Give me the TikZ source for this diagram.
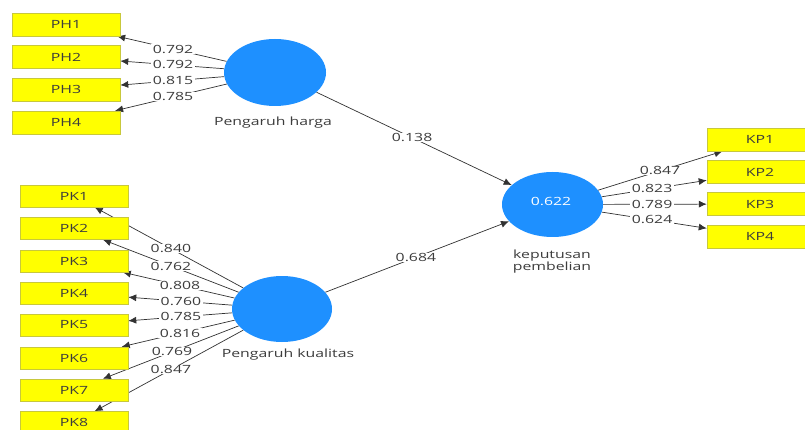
\documentclass[tikz,border=0pt]{standalone}
\usepackage{fontspec}
\setmainfont{Open Sans}[FakeStretch=1.4]
\usetikzlibrary{shapes.geometric,arrows.meta,calc}
\pgfdeclarelayer{bg}
\pgfsetlayers{bg,main}
\definecolor{lvblue}{RGB}{30,144,255}
\definecolor{indyellow}{RGB}{255,255,0}
\definecolor{indborder}{RGB}{200,200,60}
\definecolor{txtgray}{RGB}{60,60,60}
\definecolor{linegray}{RGB}{50,50,50}
\tikzset{
  ind/.style={rectangle, fill=indyellow, draw=indborder, line width=0.5pt, minimum width=108pt, minimum height=23pt, inner sep=0pt, text=txtgray, font=\fontsize{11.3}{13}\selectfont},
  lv/.style={ellipse, fill=lvblue, inner sep=0pt, text=white, font=\fontsize{11.3}{13}\selectfont},
  lvname/.style={text=txtgray, font=\fontsize{11.3}{13}\selectfont, align=center, inner sep=0pt},
  lbl/.style={fill=white, inner xsep=2pt, inner ysep=0.4pt, text=txtgray, font=\fontsize{11.3}{12}\selectfont},
  edge/.style={draw=linegray, line width=0.7pt, -{Latex[length=8pt,width=7pt]}}
}
\begin{document}
\begin{tikzpicture}[x=1pt,y=-1pt]
\useasboundingbox (0,0) rectangle (805,430);
\clip (0,0) rectangle (805,430);
% indicators
\node[ind] (PH1) at (66,24.5) {PH1};
\node[ind] (PH2) at (66,57) {PH2};
\node[ind] (PH3) at (66,89.5) {PH3};
\node[ind] (PH4) at (66,122.5) {PH4};
\node[ind, minimum height=22pt] (PK1) at (74,196) {PK1};
\node[ind, minimum height=22pt] (PK2) at (74,228.5) {PK2};
\node[ind, minimum height=22pt] (PK3) at (74,261) {PK3};
\node[ind, minimum height=22pt] (PK4) at (74,293) {PK4};
\node[ind, minimum height=22pt] (PK5) at (74,325) {PK5};
\node[ind, minimum height=22pt] (PK6) at (74,358) {PK6};
\node[ind, minimum height=22pt] (PK7) at (74,390) {PK7};
\node[ind, minimum height=22pt] (PK8) at (74,422.5) {PK8};
\node[ind, minimum width=106pt] (KP1) at (760,139.5) {KP1};
\node[ind, minimum width=106pt] (KP2) at (760,172) {KP2};
\node[ind, minimum width=106pt] (KP3) at (760,204) {KP3};
\node[ind, minimum width=106pt] (KP4) at (760,236.5) {KP4};
% latent variables
\node[lv, minimum width=102pt, minimum height=67pt] (ph) at (275,72.5) {};
\node[lv, minimum width=100pt, minimum height=66pt] (pk) at (282,309) {};
\node[lv, minimum width=101pt, minimum height=65pt] (kp) at (552.5,204.5) {};
\node[text=white, font=\fontsize{11.3}{13}\selectfont, inner sep=0pt] (r2) at (551,201) {0.622};
\node[lvname] (phn) at (273,123) {Pengaruh harga};
\node[lvname] (pkn) at (288,355) {Pengaruh kualitas};
\node[lvname, font=\fontsize{11.3}{12.5}\selectfont] (kpn) at (552,261.5) {keputusan\\pembelian};
% connectors
\begin{pgfonlayer}{bg}
\fill[white] (0,0) rectangle (805,430);
\foreach \i in {1,...,4} {\draw[edge] (ph) -- (PH\i);}
\foreach \i in {1,...,8} {\draw[edge] (pk) -- (PK\i);}
\foreach \i in {1,...,4} {\draw[edge] (kp) -- (KP\i);}
\draw[edge] (ph) -- (kp);
\draw[edge] (pk) -- (kp);
\end{pgfonlayer}
% loadings
\node[lbl] (l1) at ($(ph)!0.488!(PH1)$) {0.792};
\node[lbl] (l2) at ($(ph)!0.488!(PH2)$) {0.792};
\node[lbl] (l3) at ($(ph)!0.488!(PH3)$) {0.815};
\node[lbl] (l4) at ($(ph)!0.488!(PH4)$) {0.785};
\node[lbl] (m1) at ($(pk)!0.534!(PK1)$) {0.840};
\node[lbl] (m2) at ($(pk)!0.534!(PK2)$) {0.762};
\node[lbl] (m3) at ($(pk)!0.49!(PK3)$) {0.808};
\node[lbl] (m4) at ($(pk)!0.486!(PK4)$) {0.760};
\node[lbl] (m5) at ($(pk)!0.486!(PK5)$) {0.785};
\node[lbl] (m6) at ($(pk)!0.49!(PK6)$) {0.816};
\node[lbl] (m7) at ($(pk)!0.529!(PK7)$) {0.769};
\node[lbl] (m8) at ($(pk)!0.534!(PK8)$) {0.847};
\node[lbl] (k1) at ($(kp)!0.518!(KP1)$) {0.847};
\node[lbl] (k2) at ($(kp)!0.48!(KP2)$) {0.823};
\node[lbl] (k3) at ($(kp)!0.48!(KP3)$) {0.789};
\node[lbl] (k4) at ($(kp)!0.48!(KP4)$) {0.624};
\node[lbl] (p1) at ($(ph)!0.494!(kp)$) {0.138};
\node[lbl] (p2) at ($(pk)!0.495!(kp)$) {0.684};
\end{tikzpicture}
\end{document}
